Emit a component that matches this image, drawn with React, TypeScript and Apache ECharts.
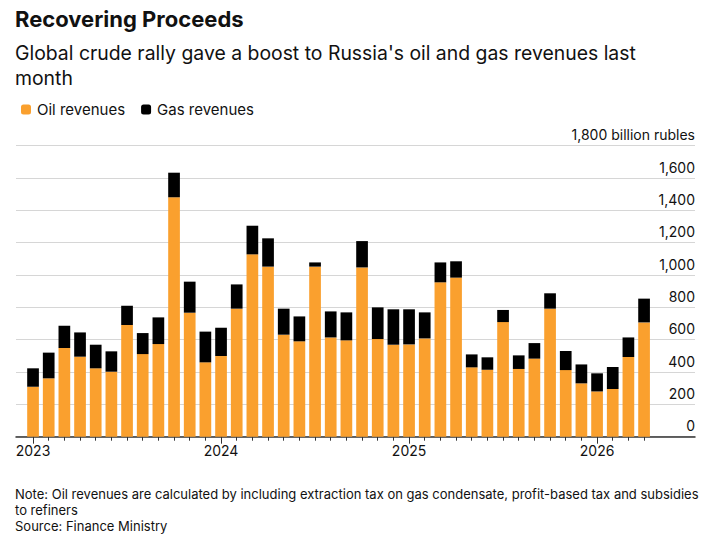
import React, { useEffect, useRef } from "react";
import * as echarts from "echarts";

// Monthly revenues, billion rubles, Jan 2023 – Apr 2026
const years = [2023, 2024, 2025, 2026];
const months = years.flatMap((y) =>
  Array.from({ length: 12 }, (_, m) => `${y}-${String(m + 1).padStart(2, "0")}`)
).slice(0, 40);

const oilRevenues = [
  309, 361, 548, 495, 423, 402, 691, 511, 573, 1481, 767, 460,
  499, 792, 1128, 1052, 631, 590, 1052, 614, 596, 1047, 604, 569,
  571, 608, 955, 984, 429, 414, 709, 419, 483, 792, 412, 330,
  280, 295, 493, 707,
];
const gasRevenues = [
  114, 159, 139, 150, 146, 126, 119, 130, 165, 152, 192, 190,
  175, 150, 177, 175, 161, 154, 26, 161, 173, 163, 196, 219,
  217, 161, 123, 101, 80, 77, 75, 84, 96, 95, 118, 117,
  112, 136, 121, 147,
];
const yTicks = [0, 200, 400, 600, 800, 1000, 1200, 1400, 1600, 1800];

const FONT = "Inter";
const ORANGE = "#FAA02E";
const TEXT = "#111";

export default function App() {
  const ref = useRef<HTMLDivElement>(null);

  useEffect(() => {
    if (!ref.current) return;
    const chart = echarts.init(ref.current, undefined, { renderer: "svg" });
    const gridTop = 145.7;
    const gridBottom = 544 - 436.7;

    chart.setOption({
      animation: false,
      backgroundColor: "#fff",
      textStyle: { fontFamily: FONT },
      graphic: [
        {
          type: "text",
          left: 15,
          top: 8,
          style: { text: "Recovering Proceeds", font: `bold 22px "${FONT}"`, fill: TEXT },
        },
        {
          type: "text",
          left: 15,
          top: 40,
          style: {
            text: "Global crude rally gave a boost to Russia's oil and gas revenues last\nmonth",
            font: `19.4px "${FONT}"`,
            lineHeight: 25,
            fill: TEXT,
          },
        },
        {
          type: "text",
          left: 15,
          top: 486,
          style: {
            text:
              "Note: Oil revenues are calculated by including extraction tax on gas condensate, profit-based tax and subsidies\nto refiners\nSource: Finance Ministry",
            font: `13px "${FONT}"`,
            lineHeight: 16,
            fill: TEXT,
          },
        },
      ],
      legend: {
        left: 16,
        top: 97,
        itemWidth: 10,
        itemHeight: 10,
        itemGap: 16,
        icon: "roundRect",
        selectedMode: false,
        textStyle: { fontFamily: FONT, fontSize: 15, color: TEXT, padding: [0, 0, 0, 1] },
        data: ["Oil revenues", "Gas revenues"],
      },
      grid: [
        { left: 16, right: 18, top: gridTop, bottom: gridBottom },
        { left: 25.2, right: 61.1, top: gridTop, bottom: gridBottom },
      ],
      xAxis: [
        {
          type: "value",
          gridIndex: 0,
          min: 0,
          max: 1,
          axisLine: { show: true, onZero: false, lineStyle: { color: "#333", width: 1.5 } },
          axisTick: { show: false },
          axisLabel: { show: false },
          splitLine: { show: false },
        },
        {
          type: "category",
          gridIndex: 1,
          data: months,
          axisLine: { show: false },
          axisTick: { show: true, alignWithLabel: true, interval: 0, length: 4, lineStyle: { color: "#333" } },
          axisLabel: { show: false },
        },
        {
          type: "category",
          gridIndex: 1,
          data: months,
          position: "bottom",
          axisLine: { show: false },
          axisTick: {
            show: true,
            alignWithLabel: true,
            interval: (i: number) => i % 12 === 0,
            length: 7,
            lineStyle: { color: "#333" },
          },
          axisLabel: {
            interval: (i: number) => i % 12 === 0,
            formatter: (v: string) => v.slice(0, 4),
            fontFamily: FONT,
            fontSize: 14,
            color: TEXT,
            margin: 7,
          },
        },
      ],
      yAxis: [
        {
          type: "value",
          gridIndex: 0,
          position: "right",
          min: 0,
          max: 1800,
          interval: 200,
          axisLine: { show: false },
          axisTick: { show: false },
          splitLine: { lineStyle: { color: "#d6d6d6", width: 1 } },
          axisLabel: {
            inside: true,
            margin: 0,
            align: "right",
            verticalAlign: "bottom",
            padding: [0, 0, 4, 0],
            fontFamily: FONT,
            fontSize: 14,
            color: TEXT,
            formatter: (v: number) =>
              yTicks.includes(v)
                ? v === 1800
                  ? "1,800 billion rubles"
                  : v.toLocaleString("en-US")
                : "",
          },
        },
        {
          type: "value",
          gridIndex: 1,
          min: 0,
          max: 1800,
          show: false,
          splitLine: { show: false },
        },
      ],
      series: [
        {
          name: "Oil revenues",
          type: "bar",
          stack: "total",
          xAxisIndex: 1,
          yAxisIndex: 1,
          barWidth: 11.7,
          itemStyle: { color: ORANGE },
          data: oilRevenues,
        },
        {
          name: "Gas revenues",
          type: "bar",
          stack: "total",
          xAxisIndex: 1,
          yAxisIndex: 1,
          barWidth: 11.7,
          itemStyle: { color: "#000" },
          data: gasRevenues,
        },
      ],
    });
    return () => chart.dispose();
  }, []);

  return (
    <div
      ref={ref}
      style={{ position: "fixed", left: 0, top: 0, width: 713, height: 544 }}
    />
  );
}
